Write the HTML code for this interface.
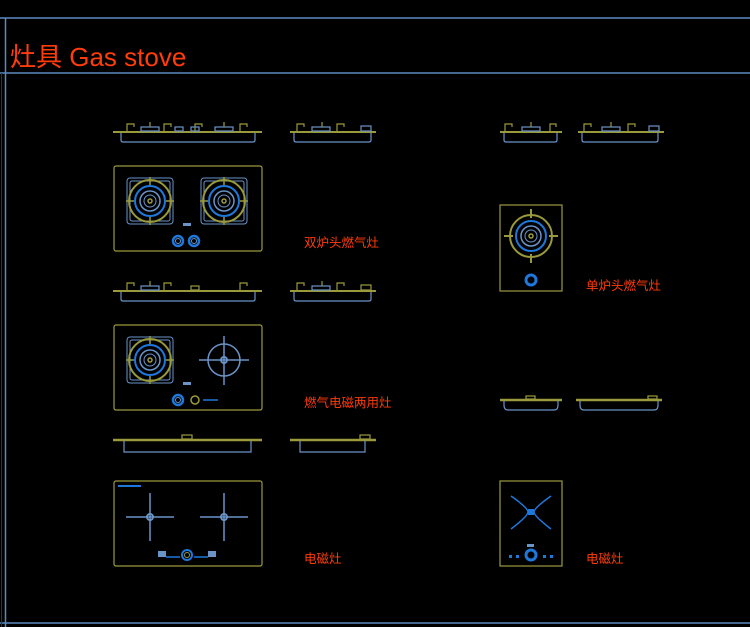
<!DOCTYPE html>
<html><head><meta charset="utf-8"><style>
html,body{margin:0;padding:0;background:#000;width:750px;height:627px;overflow:hidden}
svg{display:block}
text{font-family:"Liberation Sans","Noto Sans CJK SC",sans-serif;fill:#ff3c0a}
</style></head><body>
<svg width="750" height="627" viewBox="0 0 750 627" xmlns="http://www.w3.org/2000/svg">
<defs>
 <g id="burner" fill="none">
  <rect x="-23" y="-23" width="46" height="46" rx="3" stroke="#6a94c8" stroke-width="1"/>
  <rect x="-20" y="-20" width="40" height="40" rx="2" stroke="#6a94c8" stroke-width="1"/>
  <circle r="21" stroke="#9a9a3c" stroke-width="2"/>
  <circle r="15" stroke="#1e78dc" stroke-width="2"/>
  <circle r="10" stroke="#6a94c8" stroke-width="1.5"/>
  <circle r="6" stroke="#6a94c8" stroke-width="1"/>
  <circle r="2" stroke="#9a9a3c" stroke-width="1.5"/>
  <path d="M0 -24V-16M0 16V24M-24 0H-16M16 0H24" stroke="#9a9a3c" stroke-width="1.5"/>
 </g>
 <g id="burnerR" fill="none">
  <circle r="21" stroke="#9a9a3c" stroke-width="2"/>
  <circle r="15" stroke="#1e78dc" stroke-width="2"/>
  <circle r="10" stroke="#6a94c8" stroke-width="1.5"/>
  <circle r="6" stroke="#6a94c8" stroke-width="1"/>
  <circle r="2" stroke="#9a9a3c" stroke-width="1.5"/>
  <path d="M0 -27V-18M0 18V27M-27 0H-18M18 0H27" stroke="#9a9a3c" stroke-width="2"/>
 </g>
 <g id="knob" fill="none">
  <circle r="5" stroke="#1e78dc" stroke-width="2.5"/>
  <circle r="2.5" stroke="#6a94c8" stroke-width="1"/>
 </g>
 <g id="icross" fill="none" stroke="#6a94c8" stroke-width="1.5">
  <path d="M0 -24V24M-24 0H24"/>
  <circle r="3" stroke-width="2"/>
 </g>
</defs>

<g stroke="#5a8ac0" stroke-width="1.5" fill="none">
 <line x1="0" y1="18" x2="750" y2="18"/>
 <line x1="0" y1="73" x2="750" y2="73"/>
 <line x1="0" y1="623" x2="750" y2="623"/>
 <line x1="5.5" y1="18" x2="5.5" y2="627"/>
</g>
<line x1="1.5" y1="73" x2="1.5" y2="627" stroke="#333" stroke-width="1"/>

<text x="10" y="66" font-size="26">灶具 Gas stove</text>

<g fill="none" stroke-width="1.2">
 <path d="M113 132H262" stroke="#9a9a3c" stroke-width="2"/>
 <path d="M121 133V140Q121 142 123 142H253Q255 142 255 140V133" stroke="#6a94c8"/>
 <path d="M127 131V124H134V127M164 131V124H171V127M195 131V124H202V127M240 131V124H247V127" stroke="#9a9a3c"/>
 <rect x="141" y="127" width="18" height="4" stroke="#6a94c8"/>
 <rect x="215" y="127" width="18" height="4" stroke="#6a94c8"/>
 <rect x="175" y="127" width="8" height="4" stroke="#6a94c8"/>
 <rect x="191" y="127" width="8" height="4" stroke="#6a94c8"/>
 <path d="M150 127V122M224 127V122" stroke="#9a9a3c"/>
 <path d="M290 132H376" stroke="#9a9a3c" stroke-width="2"/>
 <path d="M294 133V140Q294 142 296 142H369Q371 142 371 140V133" stroke="#6a94c8"/>
 <path d="M297 131V124H304V127M337 131V124H344V127" stroke="#9a9a3c"/>
 <rect x="312" y="127" width="18" height="4" stroke="#6a94c8"/>
 <rect x="361" y="126" width="10" height="5" stroke="#6a94c8"/>
 <path d="M322 127V122" stroke="#9a9a3c"/>
 <path d="M500 132H562" stroke="#9a9a3c" stroke-width="2"/>
 <path d="M504 133V140Q504 142 506 142H555Q557 142 557 140V133" stroke="#6a94c8"/>
 <path d="M505 131V124H512V127M550 131V124H556V127" stroke="#9a9a3c"/>
 <rect x="522" y="127" width="18" height="4" stroke="#6a94c8"/>
 <path d="M531 127V122" stroke="#9a9a3c"/>
 <path d="M578 132H664" stroke="#9a9a3c" stroke-width="2"/>
 <path d="M582 133V140Q582 142 584 142H656Q658 142 658 140V133" stroke="#6a94c8"/>
 <path d="M584 131V124H591V127M628 131V124H635V127" stroke="#9a9a3c"/>
 <rect x="602" y="127" width="18" height="4" stroke="#6a94c8"/>
 <rect x="649" y="126" width="10" height="5" stroke="#6a94c8"/>
 <path d="M611 127V122" stroke="#9a9a3c"/>
</g>

<rect x="114" y="166" width="148" height="85" rx="2" fill="none" stroke="#9a9a3c" stroke-width="1.2"/>
<use href="#burner" x="150" y="201"/>
<use href="#burner" x="224" y="201"/>
<rect x="183" y="223" width="8" height="3" fill="#6a94c8"/>
<use href="#knob" x="178" y="241"/>
<use href="#knob" x="194" y="241"/>
<text x="304" y="247" font-size="12.5">双炉头燃气灶</text>

<g fill="none" stroke-width="1.2">
 <path d="M113 291H262" stroke="#9a9a3c" stroke-width="2"/>
 <path d="M121 292V299Q121 301 123 301H253Q255 301 255 299V292" stroke="#6a94c8"/>
 <path d="M127 290V283H134V286M164 290V283H171V286M240 290V283H247V286" stroke="#9a9a3c"/>
 <rect x="141" y="286" width="18" height="4" stroke="#6a94c8"/>
 <rect x="191" y="286" width="8" height="4" stroke="#9a9a3c"/>
 <path d="M150 286V281" stroke="#9a9a3c"/>
 <path d="M290 291H376" stroke="#9a9a3c" stroke-width="2"/>
 <path d="M294 292V299Q294 301 296 301H369Q371 301 371 299V292" stroke="#6a94c8"/>
 <path d="M297 290V283H304V286M337 290V283H344V286" stroke="#9a9a3c"/>
 <rect x="312" y="286" width="18" height="4" stroke="#6a94c8"/>
 <rect x="361" y="285" width="10" height="5" stroke="#9a9a3c"/>
 <path d="M322 286V281" stroke="#9a9a3c"/>
</g>

<rect x="114" y="325" width="148" height="85" rx="2" fill="none" stroke="#9a9a3c" stroke-width="1.2"/>
<use href="#burner" x="150" y="360"/>
<g fill="none" stroke="#6a94c8" stroke-width="1.5">
 <circle cx="224" cy="360" r="16"/>
 <path d="M224 336V385M199 360H249"/>
 <circle cx="224" cy="360" r="3" stroke-width="2"/>
</g>
<rect x="183" y="382" width="8" height="3" fill="#6a94c8"/>
<use href="#knob" x="178" y="400"/>
<circle cx="195" cy="400" r="4" fill="none" stroke="#9a9a3c" stroke-width="1.5"/>
<line x1="203" y1="400" x2="218" y2="400" stroke="#1e78dc" stroke-width="1.5"/>
<text x="304" y="407" font-size="12.5">燃气电磁两用灶</text>

<g fill="none" stroke-width="1.2">
 <path d="M113 440H262" stroke="#9a9a3c" stroke-width="2.5"/>
 <rect x="182" y="435" width="10" height="4" stroke="#9a9a3c"/>
 <path d="M124 441V452H251V441" stroke="#6a94c8"/>
 <path d="M290 440H376" stroke="#9a9a3c" stroke-width="2.5"/>
 <rect x="360" y="435" width="10" height="4" stroke="#9a9a3c"/>
 <path d="M300 441V452H365V441" stroke="#6a94c8"/>
 <path d="M500 400H562" stroke="#9a9a3c" stroke-width="2.5"/>
 <rect x="526" y="396" width="9" height="3" stroke="#9a9a3c"/>
 <path d="M504 401V405Q504 410 508 410H554Q558 410 558 405V401" stroke="#6a94c8"/>
 <path d="M576 400H662" stroke="#9a9a3c" stroke-width="2.5"/>
 <rect x="648" y="396" width="9" height="3" stroke="#9a9a3c"/>
 <path d="M580 401V405Q580 410 584 410H654Q658 410 658 405V401" stroke="#6a94c8"/>
</g>

<rect x="114" y="481" width="148" height="85" rx="2" fill="none" stroke="#9a9a3c" stroke-width="1.2"/>
<line x1="118" y1="486" x2="141" y2="486" stroke="#1e78dc" stroke-width="2"/>
<use href="#icross" x="150" y="517"/>
<use href="#icross" x="224" y="517"/>
<rect x="158" y="551" width="8" height="6" fill="#6a94c8"/>
<rect x="208" y="551" width="8" height="6" fill="#6a94c8"/>
<path d="M166 557H180M194 557H208" stroke="#1e78dc" stroke-width="1.5"/>
<circle cx="187" cy="555" r="5" fill="none" stroke="#1e78dc" stroke-width="2"/>
<circle cx="187" cy="555" r="2.5" fill="none" stroke="#9a9a3c" stroke-width="1"/>
<text x="304" y="563" font-size="12.5">电磁灶</text>

<rect x="500" y="205" width="62" height="86" fill="none" stroke="#9a9a3c" stroke-width="1.2"/>
<use href="#burnerR" x="531" y="236"/>
<circle cx="531" cy="280" r="5" fill="none" stroke="#1e78dc" stroke-width="3"/>
<text x="586" y="290" font-size="12.5">单炉头燃气灶</text>

<rect x="500" y="481" width="62" height="85" fill="none" stroke="#9a9a3c" stroke-width="1.2"/>
<g fill="none" stroke="#1e78dc" stroke-width="1.5">
 <path d="M511 496Q528 508 528 512Q528 516 511 529"/>
 <path d="M551 496Q534 508 534 512Q534 516 551 529"/>
</g>
<rect x="528" y="509" width="6" height="6" fill="#1e78dc"/>
<rect x="527" y="544" width="7" height="3" fill="#6a94c8"/>
<circle cx="531" cy="555" r="5" fill="none" stroke="#1e78dc" stroke-width="3"/>
<g fill="#1e78dc"><rect x="509" y="555" width="3" height="3"/><rect x="516" y="555" width="3" height="3"/><rect x="543" y="555" width="3" height="3"/><rect x="550" y="555" width="3" height="3"/></g>
<text x="586" y="563" font-size="12.5">电磁灶</text>
</svg>
</body></html>
